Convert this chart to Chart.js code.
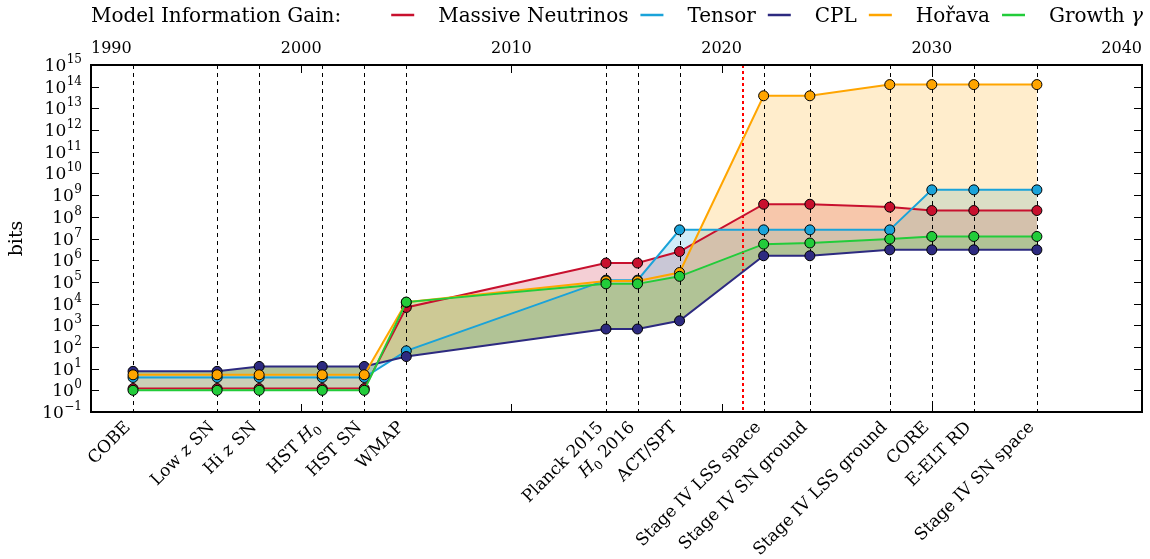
<!DOCTYPE html>
<html>
<head>
<meta charset="utf-8">
<script src="https://cdn.jsdelivr.net/npm/chart.js@4.4.1/dist/chart.umd.min.js"></script>
<style>
  html, body { margin: 0; padding: 0; background: #fff; }
  #wrap { width: 1150px; height: 559px; }
</style>
</head>
<body>
<div id="wrap"><canvas id="chart" width="1150" height="559"></canvas></div>
<script>
// experiments along the time axis ($..$ marks math: italic, _ = subscript)
const experiments = ['COBE', 'Low $z$ SN', 'Hi $z$ SN', 'HST $H_0$', 'HST SN', 'WMAP',
  'Planck 2015', '$H_0$ 2016', 'ACT/SPT', 'Stage IV LSS space', 'Stage IV SN ground',
  'Stage IV LSS ground', 'CORE', 'E-ELT RD', 'Stage IV SN space'];
const years = [1992, 1996, 1998, 2001, 2003, 2005, 2014.5, 2016, 2018, 2022, 2024.2, 2028, 2030, 2032, 2035];

// information gain in bits, one value per experiment
const massiveNeutrinos = [1.2, 1.2, 1.2, 1.2, 1.2, 6.6e3, 7.4e5, 7.4e5, 2.5e6, 3.8e8, 3.8e8, 2.8e8, 1.95e8, 1.95e8, 1.95e8];
const tensor = [3.9, 3.9, 3.9, 3.9, 3.9, 66, 1.2e5, 1.2e5, 2.5e7, 2.5e7, 2.5e7, 2.5e7, 1.75e9, 1.75e9, 1.75e9];
const cpl = [7.5, 7.5, 12.6, 12.6, 12.6, 36, 670, 670, 1.6e3, 1.6e6, 1.6e6, 3e6, 3e6, 3e6, 3e6];
const horava = [5.2, 5.2, 5.2, 5.2, 5.2, 1.15e4, 1.1e5, 1.1e5, 2.7e5, 3.8e13, 3.8e13, 1.25e14, 1.25e14, 1.25e14, 1.25e14];
const growth = [1, 1, 1, 1, 1, 1.17e4, 8.1e4, 8.1e4, 1.8e5, 5.5e6, 6.2e6, 9.4e6, 1.24e7, 1.24e7, 1.24e7];

const seriesNames = ['Massive Neutrinos', 'Tensor', 'CPL', 'Hořava', 'Growth $γ$'];
const seriesValues = [massiveNeutrinos, tensor, cpl, horava, growth];
const seriesColors = ['#c8102e', '#1aa3d9', '#2d2a80', '#ffa500', '#22cc3a'];
const fillColors = ['rgba(200,16,46,0.2)', 'rgba(26,163,217,0.2)', 'rgba(45,42,128,0.2)',
  'rgba(255,165,0,0.2)', 'rgba(34,204,58,0.2)'];

const yearTicks = [1990, 2000, 2010, 2020, 2030, 2040];
const bitExponents = [-1, 0, 1, 2, 3, 4, 5, 6, 7, 8, 9, 10, 11, 12, 13, 14, 15];
const todayYear = 2021;
const legendTitle = 'Model Information Gain:';

const FONT = "'DejaVu Serif', serif";
const cplIndex = 2;

// split "Low $z$ SN" into styled runs
function richParts(text) {
  const parts = [];
  text.split('$').forEach((chunk, k) => {
    if (!chunk) return;
    if (k % 2 === 0) { parts.push({ t: chunk, s: 'n' }); return; }
    const m = chunk.split('_');
    parts.push({ t: m[0], s: 'i' });
    if (m[1]) parts.push({ t: m[1], s: 'sub' });
  });
  return parts;
}
function partFont(p, size) {
  if (p.s === 'i') return `italic ${size}px ${FONT}`;
  if (p.s === 'sub') return `${Math.round(size * 0.7)}px ${FONT}`;
  return `${size}px ${FONT}`;
}
function richWidth(ctx, parts, size) {
  let w = 0;
  parts.forEach(p => { ctx.font = partFont(p, size); w += ctx.measureText(p.t).width; });
  return w;
}
function drawRich(ctx, parts, x, y, size) {
  ctx.textAlign = 'left';
  ctx.textBaseline = 'alphabetic';
  parts.forEach(p => {
    ctx.font = partFont(p, size);
    ctx.fillText(p.t, x, p.s === 'sub' ? y + size * 0.25 : y);
    x += ctx.measureText(p.t).width;
  });
  return x;
}

const decorations = {
  id: 'decorations',
  beforeDatasetsDraw(chart) {
    const { ctx, chartArea: a, scales } = chart;
    ctx.save();
    ctx.lineWidth = 1;
    ctx.strokeStyle = '#000';
    ctx.setLineDash([4, 4]);
    years.forEach(yr => {
      const x = Math.round(scales.x.getPixelForValue(yr)) + 0.5;
      ctx.beginPath(); ctx.moveTo(x, a.top); ctx.lineTo(x, a.bottom); ctx.stroke();
    });
    ctx.strokeStyle = '#ff0000';
    ctx.lineWidth = 2;
    ctx.setLineDash([3, 3]);
    const xr = Math.round(scales.x.getPixelForValue(todayYear));
    ctx.beginPath(); ctx.moveTo(xr, a.top); ctx.lineTo(xr, a.bottom); ctx.stroke();
    ctx.restore();
  },
  afterDraw(chart) {
    const { ctx, chartArea: a, scales } = chart;
    ctx.save();
    ctx.fillStyle = '#000';
    ctx.strokeStyle = '#000';

    // inward tick marks
    ctx.lineWidth = 1;
    bitExponents.forEach(e => {
      const y = Math.round(scales.y.getPixelForValue(Math.pow(10, e))) + 0.5;
      ctx.beginPath();
      ctx.moveTo(a.left, y); ctx.lineTo(a.left + 8, y);
      ctx.moveTo(a.right, y); ctx.lineTo(a.right - 8, y);
      ctx.stroke();
    });
    yearTicks.forEach(yr => {
      const x = Math.round(scales.x.getPixelForValue(yr)) + 0.5;
      ctx.beginPath();
      ctx.moveTo(x, a.top); ctx.lineTo(x, a.top + 8);
      ctx.moveTo(x, a.bottom); ctx.lineTo(x, a.bottom - 8);
      ctx.stroke();
    });

    // frame
    ctx.lineWidth = 2;
    ctx.strokeRect(a.left, a.top, a.right - a.left, a.bottom - a.top);

    // year labels on the top edge, outer ones kept inside the frame
    ctx.font = `16px ${FONT}`;
    ctx.textBaseline = 'alphabetic';
    yearTicks.forEach((yr, i) => {
      const x = scales.x.getPixelForValue(yr);
      ctx.textAlign = i === 0 ? 'left' : (i === yearTicks.length - 1 ? 'right' : 'center');
      ctx.fillText(String(yr), x, a.top - 12);
    });

    // y tick labels 10^e
    bitExponents.forEach(e => {
      const y = scales.y.getPixelForValue(Math.pow(10, e));
      const exp = e < 0 ? '\u2212' + (-e) : String(e);
      ctx.font = `12px ${FONT}`;
      const ew = ctx.measureText(exp).width;
      const xEnd = a.left - 9;
      ctx.textAlign = 'left';
      ctx.textBaseline = 'alphabetic';
      ctx.fillText(exp, xEnd - ew, y - 2);
      ctx.font = `17px ${FONT}`;
      ctx.textAlign = 'right';
      ctx.fillText('10', xEnd - ew - 0.5, y + 6);
    });

    // y axis title
    ctx.save();
    ctx.translate(17, (a.top + a.bottom) / 2);
    ctx.rotate(-Math.PI / 2);
    ctx.font = `19px ${FONT}`;
    ctx.textAlign = 'center';
    ctx.textBaseline = 'middle';
    ctx.fillText('bits', 0, 0);
    ctx.restore();

    // experiment labels, rotated 45 degrees, ending at their tick
    experiments.forEach((name, i) => {
      const x = scales.x.getPixelForValue(years[i]);
      const parts = richParts(name);
      ctx.save();
      ctx.translate(x - 2, a.bottom + 16);
      ctx.rotate(-Math.PI / 4);
      const w = richWidth(ctx, parts, 17);
      drawRich(ctx, parts, -w, 0, 17);
      ctx.restore();
    });

    // legend row
    let lx = 91;
    const ly = 22;
    lx = drawRich(ctx, richParts(legendTitle), lx, ly, 20) + 50;
    seriesNames.forEach((name, i) => {
      ctx.strokeStyle = seriesColors[i];
      ctx.lineWidth = 2.5;
      ctx.beginPath(); ctx.moveTo(lx, 15); ctx.lineTo(lx + 23, 15); ctx.stroke();
      lx += 23 + 24;
      ctx.fillStyle = '#000';
      lx = drawRich(ctx, richParts(name), lx, ly, 20) + 12;
    });
    ctx.restore();
  }
};

const datasets = seriesValues.map((vals, i) => ({
  label: seriesNames[i],
  data: years.map((x, j) => ({ x, y: vals[j] })),
  borderColor: seriesColors[i],
  backgroundColor: fillColors[i],
  pointBackgroundColor: seriesColors[i],
  pointBorderColor: '#000',
  pointBorderWidth: 1,
  pointRadius: 5,
  borderWidth: 2,
  tension: 0,
  fill: i === cplIndex ? false : { target: cplIndex },
  order: seriesNames.length - i,
}));

new Chart(document.getElementById('chart'), {
  type: 'line',
  data: { datasets },
  options: {
    responsive: false,
    animation: false,
    events: [],
    layout: { padding: { top: 65, right: 8 } },
    plugins: {
      legend: { display: false },
      tooltip: { enabled: false },
      filler: { drawTime: 'beforeDatasetsDraw' },
    },
    scales: {
      x: {
        type: 'linear', position: 'bottom', min: 1990, max: 2040,
        grid: { display: false }, border: { display: false },
        ticks: { display: false },
        afterFit: (s) => { s.height = 559 - 412; },
      },
      y: {
        type: 'logarithmic', min: 0.1, max: 1e15,
        grid: { display: false }, border: { display: false },
        ticks: { display: false },
        afterFit: (s) => { s.width = 91; },
      },
    },
  },
  plugins: [decorations],
});
</script>
</body>
</html>
